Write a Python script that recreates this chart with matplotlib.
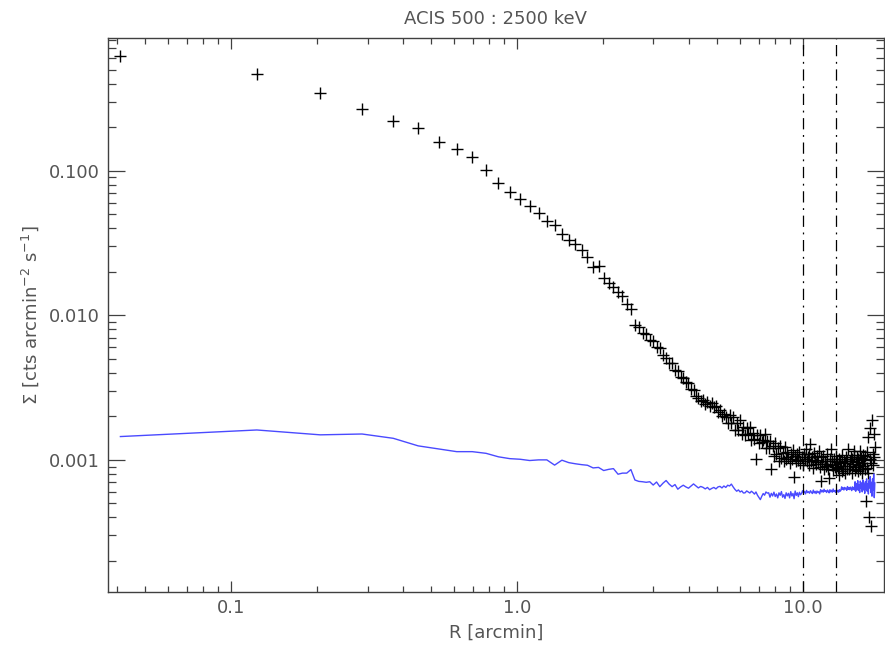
import numpy as np
import matplotlib
matplotlib.use("Agg")
import matplotlib.pyplot as plt
from matplotlib.ticker import LogLocator, FuncFormatter, NullFormatter

# ---------------- data ----------------
TITLE = "ACIS 500 : 2500 keV"
XLABEL = "R [arcmin]"
YLABEL = r"$\Sigma$ [cts arcmin$^{-2}$ s$^{-1}$]"

BIN_WIDTH = 0.082          # arcmin (10 ACIS pixels)
N_BINS = 218
radius = (np.arange(N_BINS) + 0.5) * BIN_WIDTH

# surface brightness of source (units of 1e-3 cts arcmin^-2 s^-1)
sb_source_e3 = [
    620, 464, 343, 265, 222, 196, 159, 142, 125, 101,
    82.6, 71.4, 64.0, 57.0, 51.0, 45.0, 42.0, 36.5, 33.0, 31.0,
    28.2, 25.3, 21.7, 21.8, 18.2, 16.6, 15.7, 14.6, 13.6, 12.0,
    11.1, 8.6, 8.3, 7.5, 7.4, 6.7, 6.6, 6.0, 5.95, 5.3,
    5.1, 4.7, 4.65, 4.2, 4.15, 3.75, 3.7, 3.45, 3.4, 3.1,
    3.05, 2.78, 2.70, 2.56, 2.60, 2.45, 2.52, 2.37, 2.46, 2.32,
    2.34, 2.14, 2.20, 2.00, 2.06, 1.97, 1.81, 2.04, 1.79, 1.98,
    1.61, 1.80, 1.62, 1.88, 1.51, 1.69, 1.48, 1.66, 1.52, 1.69,
    1.38, 1.53, 1.39, 1.02, 1.49, 1.31, 1.49, 1.32, 1.38, 1.52,
    1.20, 1.36, 1.20, 1.36, 0.87, 1.24, 1.07, 1.30, 1.09, 1.21,
    0.99, 1.25, 1.03, 1.12, 0.98, 1.22, 1.01, 1.14, 1.05, 0.95,
    1.10, 1.02, 1.17, 0.76, 1.07, 0.98, 1.10, 1.00, 1.13, 0.95,
    1.05, 0.92, 1.09, 1.02, 1.18, 0.98, 1.05, 0.92, 1.09, 1.29,
    0.98, 1.05, 0.88, 1.11, 1.00, 0.93, 1.06, 0.97, 1.15, 0.89,
    0.71, 1.04, 0.93, 1.07, 0.86, 0.99, 0.91, 1.09, 0.94, 0.87,
    0.75, 1.02, 1.19, 0.92, 0.99, 0.85, 1.02, 0.89, 1.07, 0.86,
    0.96, 0.88, 1.01, 0.79, 0.97, 0.91, 0.84, 1.08, 0.86, 0.98,
    0.81, 0.95, 1.04, 0.87, 0.99, 1.19, 0.86, 0.98, 0.91, 1.05,
    0.81, 1.02, 0.93, 1.08, 1.15, 0.85, 0.97, 0.89, 1.05, 0.84,
    1.01, 0.92, 1.15, 0.87, 1.03, 0.95, 0.81, 1.08, 0.91, 1.00,
    0.86, 1.07, 0.52, 1.14, 0.88, 1.43, 0.81, 0.40, 1.02, 1.66,
    0.35, 0.95, 1.90, 1.10, 0.92, 1.51, 1.05, 1.22,
]

# background profile (units of 1e-3 cts arcmin^-2 s^-1)
sb_background_e3 = [
    1.45, 1.61, 1.49, 1.51, 1.41, 1.25, 1.19, 1.14, 1.14, 1.11,
    1.05, 1.02, 1.01, 0.99, 1.00, 1.00, 0.92, 0.995, 0.957, 0.94,
    0.927, 0.918, 0.88, 0.887, 0.844, 0.86, 0.87, 0.796, 0.81, 0.81,
    0.857, 0.726, 0.71, 0.706, 0.70, 0.706, 0.67, 0.703, 0.653, 0.69,
    0.72, 0.68, 0.653, 0.675, 0.627, 0.65, 0.668, 0.65, 0.637, 0.66,
    0.682, 0.66, 0.64, 0.655, 0.646, 0.63, 0.645, 0.622, 0.635, 0.645,
    0.63, 0.65, 0.656, 0.64, 0.66, 0.645, 0.668, 0.66, 0.68, 0.65,
    0.625, 0.607, 0.62, 0.60, 0.61, 0.59, 0.592, 0.61, 0.60, 0.59,
    0.607, 0.595, 0.58, 0.60, 0.57, 0.55, 0.531, 0.56, 0.585, 0.57,
    0.60, 0.589, 0.592, 0.552, 0.587, 0.563, 0.598, 0.558, 0.581, 0.546,
    0.592, 0.569, 0.604, 0.552, 0.575, 0.541, 0.592, 0.564, 0.587, 0.546,
    0.603, 0.563, 0.586, 0.539, 0.609, 0.568, 0.592, 0.557, 0.597, 0.574,
    0.585, 0.612, 0.591, 0.606, 0.582, 0.615, 0.594, 0.603, 0.588, 0.612,
    0.597, 0.585, 0.618, 0.591, 0.606, 0.585, 0.609, 0.594, 0.603, 0.582,
    0.622, 0.601, 0.616, 0.598, 0.626, 0.604, 0.613, 0.595, 0.619, 0.607,
    0.592, 0.622, 0.601, 0.616, 0.598, 0.629, 0.604, 0.613, 0.595, 0.619,
    0.601, 0.616, 0.598, 0.622, 0.607, 0.616, 0.651, 0.626, 0.642, 0.619,
    0.645, 0.629, 0.638, 0.616, 0.654, 0.626, 0.642, 0.623, 0.648, 0.632,
    0.613, 0.651, 0.629, 0.645, 0.619, 0.706, 0.607, 0.686, 0.627, 0.719,
    0.614, 0.673, 0.594, 0.713, 0.634, 0.693, 0.601, 0.726, 0.620, 0.680,
    0.587, 0.706, 0.627, 0.739, 0.607, 0.686, 0.581, 0.719, 0.640, 0.766,
    0.594, 0.700, 0.561, 0.739, 0.620, 0.799, 0.548, 0.693,
]

SCALE = 1e-3
vlines_r = [10.0, 13.0]   # arcmin, region boundaries

sb_source = np.array(sb_source_e3) * SCALE
sb_background = np.array(sb_background_e3) * SCALE

# ---------------- figure ----------------
W, H = 885, 653
fig = plt.figure(figsize=(W / 100, H / 100), dpi=100)
L, R_, T, B = 108, 884, 38, 592
ax = fig.add_axes([L / W, 1 - B / H, (R_ - L) / W, (B - T) / H])

TXT = "#555555"
AXC = "#404040"

ax.plot(radius, sb_source, ls="none", marker="+", ms=9, mew=1.0, color="black")
ax.plot(radius, sb_background, color="#4a4aff", lw=1.0)
for xv in vlines_r:
    ax.axvline(xv, color="black", lw=0.9, ls=(0, (9, 4.5, 1.5, 4.5)))

ax.set_xscale("log")
ax.set_yscale("log")
ax.set_xlim(0.0371, 19.2)
ax.set_ylim(1.22e-4, 0.827)

ax.xaxis.set_major_locator(LogLocator(base=10))
ax.xaxis.set_minor_locator(LogLocator(base=10, subs=np.arange(2, 10)))
ax.yaxis.set_major_locator(LogLocator(base=10))
ax.yaxis.set_minor_locator(LogLocator(base=10, subs=np.arange(2, 10)))
ax.xaxis.set_major_formatter(FuncFormatter(lambda v, p: f"{v:.1f}"))
ax.yaxis.set_major_formatter(FuncFormatter(lambda v, p: f"{v:.3f}"))
ax.xaxis.set_minor_formatter(NullFormatter())
ax.yaxis.set_minor_formatter(NullFormatter())

ax.tick_params(which="both", direction="in", top=True, right=True,
               color=AXC, width=0.9, labelcolor=TXT, labelsize=13)
ax.tick_params(axis="x", which="major", length=8, pad=5)
ax.tick_params(axis="x", which="minor", length=4)
ax.tick_params(axis="y", which="major", length=12, pad=6)
ax.tick_params(axis="y", which="minor", length=6)

for s in ax.spines.values():
    s.set_color(AXC)
    s.set_linewidth(1.0)

ax.set_title(TITLE, color=TXT, fontsize=13, pad=10)
ax.set_xlabel(XLABEL, color=TXT, fontsize=13)
ax.set_ylabel(YLABEL, color=TXT, fontsize=13)
ax.xaxis.set_label_coords(0.5, (B - 624) / (B - T))
ax.yaxis.set_label_coords((41 - L) / (R_ - L), 0.5)

fig.savefig("out.png", dpi=100)
